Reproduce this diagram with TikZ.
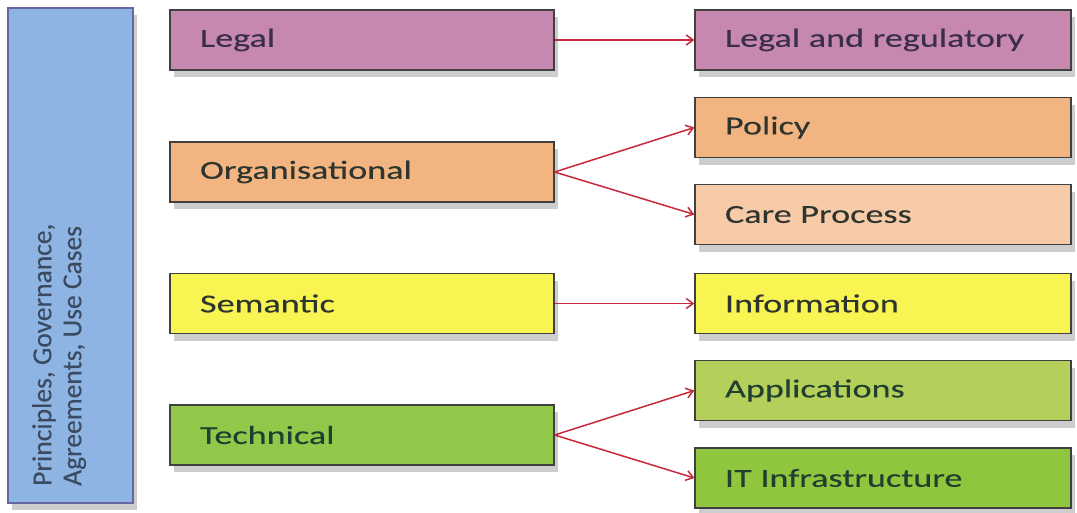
\documentclass[tikz,border=0pt]{standalone}
\usepackage{fontspec}
\setmainfont{Carlito}
\newfontfamily\boxfont{Carlito}[FakeStretch=1.39,FakeBold=0.2]
\newfontfamily\sidefont{Carlito}[FakeBold=0.2]
\usetikzlibrary{arrows.meta,shadows}
\definecolor{cblue}{HTML}{8EB4E3}
\definecolor{cpink}{HTML}{C788B0}
\definecolor{cpeach}{HTML}{F2B481}
\definecolor{cpeachl}{HTML}{F7CBA8}
\definecolor{cyel}{HTML}{F8F552}
\definecolor{cgreen}{HTML}{92C84A}
\definecolor{colive}{HTML}{B5D05A}
\definecolor{cgreen2}{HTML}{8FC63E}
\definecolor{cred}{HTML}{C8283C}
\definecolor{ctext}{HTML}{2E342E}
\definecolor{cptext}{HTML}{3A2E48}
\definecolor{cgtext}{HTML}{1F4030}
\definecolor{cbtext}{HTML}{3A4A60}
\tikzset{
  shad/.style={drop shadow={shadow xshift=4pt, shadow yshift=-7pt, opacity=0.28, fill=black!70}},
  box/.style={draw=black!75, line width=1.2pt, minimum height=60pt, text width=#1, align=left,
    inner xsep=30pt, font=\boxfont\fontsize{26}{30}\selectfont, text=ctext, shad},
  lbox/.style={box=324pt},
  rbox/.style={box=316pt},
  conn/.style={draw=cred, line width=1.5pt, -{Straight Barb[length=7pt,width=10pt]}}
}
\begin{document}
\begin{tikzpicture}[x=1pt,y=-1pt]
\useasboundingbox (0,0) rectangle (1077,512);
\node[draw=black!60!blue!60, line width=1.2pt, fill=cblue, minimum width=125pt, minimum height=495pt, shad] (gov) at (70.5,255.5) {};
\node[rotate=90, anchor=north west, align=left, font=\sidefont\fontsize{27.5}{30}\selectfont, text=cbtext, inner sep=0pt] (govtext) at (32,486) {Principles, Governance,\\Agreements, Use Cases};
% left boxes
\node[lbox, fill=cpink, text=cptext] (legal) at (362,40) {Legal};
\node[lbox, fill=cpeach] (org) at (362,172) {Organisational};
\node[lbox, fill=cyel] (sem) at (362,303.5) {Semantic};
\node[lbox, fill=cgreen, text=cgtext] (tech) at (362,435) {Technical};
% right boxes
\node[rbox, fill=cpink, text=cptext] (lr) at (883,40) {Legal and regulatory};
\node[rbox, fill=cpeach] (pol) at (883,127.5) {Policy};
\node[rbox, fill=cpeachl] (care) at (883,214.5) {Care Process};
\node[rbox, fill=cyel] (info) at (883,303.5) {Information};
\node[rbox, fill=colive, text=cgtext] (app) at (883,390.5) {Applications};
\node[rbox, fill=cgreen2, text=cgtext] (it) at (883,478) {IT Infrastructure};
% connectors
\draw[conn] (legal.east) -- (lr.west);
\draw[conn] (org.east) -- (pol.west);
\draw[conn] (org.east) -- (care.west);
\draw[conn] (sem.east) -- (info.west);
\draw[conn] (tech.east) -- (app.west);
\draw[conn] (tech.east) -- (it.west);
\end{tikzpicture}
\end{document}
